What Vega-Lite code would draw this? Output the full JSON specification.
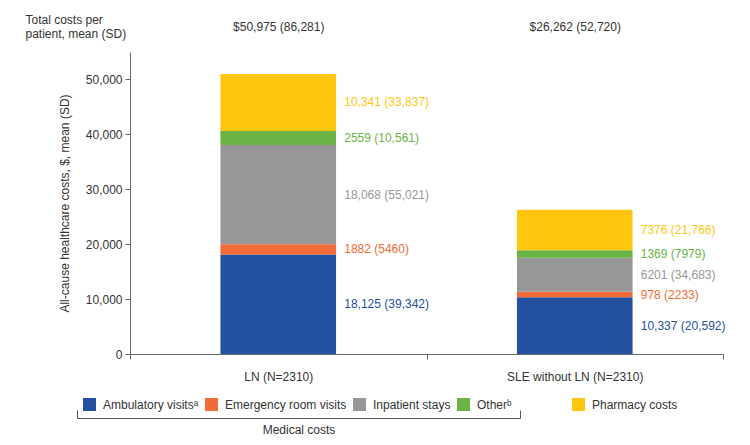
{
  "$schema": "https://vega.github.io/schema/vega-lite/v6.json",
  "width": 593,
  "height": 302,
  "autosize": {"type": "none"},
  "padding": {"left": 130, "top": 52, "right": 27, "bottom": 91},
  "config": {
    "font": "Liberation Sans",
    "view": {"stroke": null},
    "axis": {
      "labelFont": "Liberation Sans",
      "titleFont": "Liberation Sans",
      "labelFontSize": 12,
      "titleFontSize": 12,
      "titleFontWeight": "normal",
      "labelColor": "#333333",
      "titleColor": "#333333",
      "domainColor": "#666666",
      "tickColor": "#666666",
      "grid": false
    },
    "axisY": {"format": ",d"},
    "legend": {
      "labelFont": "Liberation Sans",
      "labelFontSize": 12,
      "labelColor": "#333333"
    }
  },
  "datasets": {
    "costs": [
      {"group": "LN (N=2310)", "category": "Ambulatory visitsᵃ", "value": 18125, "label": "18,125 (39,342)"},
      {"group": "LN (N=2310)", "category": "Emergency room visits", "value": 1882, "label": "1882 (5460)"},
      {"group": "LN (N=2310)", "category": "Inpatient stays", "value": 18068, "label": "18,068 (55,021)"},
      {"group": "LN (N=2310)", "category": "Otherᵇ", "value": 2559, "label": "2559 (10,561)"},
      {"group": "LN (N=2310)", "category": "Pharmacy costs", "value": 10341, "label": "10,341 (33,837)"},
      {"group": "SLE without LN (N=2310)", "category": "Ambulatory visitsᵃ", "value": 10337, "label": "10,337 (20,592)"},
      {"group": "SLE without LN (N=2310)", "category": "Emergency room visits", "value": 978, "label": "978 (2233)"},
      {"group": "SLE without LN (N=2310)", "category": "Inpatient stays", "value": 6201, "label": "6201 (34,683)"},
      {"group": "SLE without LN (N=2310)", "category": "Otherᵇ", "value": 1369, "label": "1369 (7979)"},
      {"group": "SLE without LN (N=2310)", "category": "Pharmacy costs", "value": 7376, "label": "7376 (21,766)"}
    ],
    "totals": [
      {"group": "LN (N=2310)", "total": "$50,975 (86,281)", "value": 0},
      {"group": "SLE without LN (N=2310)", "total": "$26,262 (52,720)", "value": 0}
    ]
  },
  "resolve": {"scale": {"x": "independent"}, "axis": {"x": "independent"}},
  "layer": [
    {
      "data": {"name": "costs"},
      "mark": {"type": "bar", "width": {"band": 0.39}},
      "encoding": {
        "x": {
          "field": "group", "type": "nominal", "sort": null,
          "scale": {"paddingInner": 0, "paddingOuter": 0},
          "axis": {"orient": "bottom", "title": null, "labelAngle": 0, "tickBand": "extent", "tickSize": 5, "labelPadding": 12}
        },
        "y": {
          "field": "value", "type": "quantitative", "stack": "zero",
          "scale": {"domain": [0, 55000], "nice": false},
          "axis": {
            "values": [0, 10000, 20000, 30000, 40000, 50000],
            "format": ",d",
            "tickSize": 5,
            "labelPadding": 3,
            "title": "All-cause healthcare costs, $, mean (SD)",
            "titlePadding": 14
          }
        },
        "color": {
          "field": "category", "type": "nominal",
          "scale": {
            "domain": ["Ambulatory visitsᵃ", "Emergency room visits", "Inpatient stays", "Otherᵇ", "Pharmacy costs"],
            "range": ["#23509F", "#F26A35", "#979797", "#69B445", "#FFC60D"]
          },
          "legend": {
            "orient": "none",
            "legendX": -47,
            "legendY": 346,
            "direction": "horizontal",
            "title": null,
            "values": ["Ambulatory visitsᵃ", "Emergency room visits", "Inpatient stays", "Otherᵇ"],
            "symbolType": "square",
            "symbolSize": 169,
            "symbolStrokeWidth": 0,
            "symbolOpacity": 1,
            "labelOffset": 7,
            "columnPadding": 6,
            "labelLimit": 300
          }
        },
        "order": {"field": "category", "sort": "ascending"}
      }
    },
    {
      "data": {"name": "costs"},
      "mark": {"type": "text", "align": "left", "baseline": "middle", "dx": 66, "fontSize": 12, "font": "Liberation Sans"},
      "encoding": {
        "x": {
          "field": "group", "type": "nominal", "sort": null,
          "scale": {"paddingInner": 0, "paddingOuter": 0},
          "axis": null
        },
        "y": {"field": "value", "type": "quantitative", "stack": "zero", "bandPosition": 0.5},
        "color": {"field": "category", "type": "nominal", "legend": null},
        "order": {"field": "category", "sort": "ascending"},
        "text": {"field": "label"}
      }
    },
    {
      "data": {"name": "totals"},
      "mark": {"type": "point", "opacity": 0, "filled": true},
      "encoding": {
        "x": {
          "field": "total", "type": "nominal", "sort": null,
          "scale": {"paddingInner": 0, "paddingOuter": 0},
          "axis": {
            "orient": "top", "domain": false, "ticks": false, "labelPadding": 19, "labelAngle": 0,
            "title": ["Total costs per", "patient, mean (SD)"],
            "titleX": -105, "titleY": -29, "titleAlign": "left", "titleBaseline": "alphabetic", "titleAngle": 0,
            "titleLineHeight": 14
          }
        },
        "y": {"field": "value", "type": "quantitative"},
        "fill": {
          "datum": "Pharmacy costs", "type": "nominal",
          "scale": {"domain": ["Pharmacy costs"], "range": ["#FFC60D"]},
          "legend": {
            "orient": "none",
            "legendX": 442,
            "legendY": 346,
            "direction": "horizontal",
            "title": null,
            "symbolType": "square",
            "symbolSize": 169,
            "symbolStrokeWidth": 0,
            "symbolOpacity": 1,
            "labelOffset": 7,
            "labelLimit": 300
          }
        }
      }
    },
    {
      "data": {"name": "totals"},
      "mark": {"type": "point", "opacity": 0},
      "encoding": {
        "x": {
          "field": "value", "type": "quantitative",
          "scale": {"domain": [0, 1], "range": [0, 443]},
          "axis": {
            "orient": "bottom", "position": -53, "offset": 64,
            "values": [0, 1], "labels": false, "tickSize": -8,
            "domainColor": "#555555", "tickColor": "#555555",
            "title": "Medical costs", "titlePadding": 6
          }
        },
        "y": {"field": "value", "type": "quantitative"}
      }
    }
  ]
}
